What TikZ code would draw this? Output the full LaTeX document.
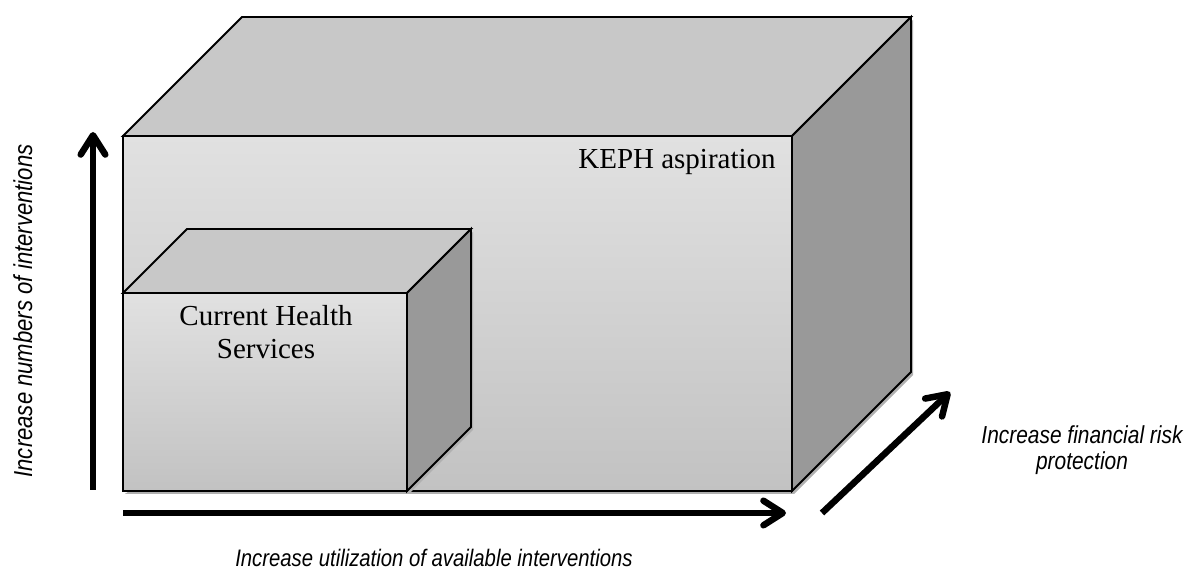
\documentclass[tikz,border=0pt]{standalone}
\usepackage{fontspec}
\setmainfont{Liberation Serif}
\newfontfamily\narrowsans[FakeStretch=0.85]{Liberation Sans}
\usepackage{tikz}
\usetikzlibrary{arrows.meta}
\definecolor{frontlight}{HTML}{E1E1E1}
\definecolor{frontdark}{HTML}{C2C2C2}
\definecolor{topgray}{HTML}{C8C8C8}
\definecolor{sidegray}{HTML}{999999}
\definecolor{shadowgray}{HTML}{B0B0B0}
\tikzset{
  face/.style={draw=black, line width=1.1pt, line join=miter},
  frontface/.style={face, top color=frontlight, bottom color=frontdark},
  topface/.style={face, fill=topgray},
  sideface/.style={face, fill=sidegray},
  boxshadow/.style={fill=shadowgray},
  boxtext/.style={inner sep=0pt, align=center, font=\fontsize{16.5}{19}\selectfont},
  axistext/.style={inner sep=0pt, align=center, font=\narrowsans\itshape\fontsize{#1}{15}\selectfont}
}
\tikzstyle{axisarrow} = [line width=3.7pt, -{Straight Barb[length=11pt, width=14pt, round]}]
\newcommand\cuboid[5]{
  \path[boxshadow] (#1+2,#4+3) -- (#3+2,#4+3) -- (#3+#5+2,#4-#5+3) -- (#3+#5+2,#2-#5+3) -- (#3+2,#2+3) -- cycle;
  \path[topface] (#1,#2) -- (#1+#5,#2-#5) -- (#3+#5,#2-#5) -- (#3,#2) -- cycle;
  \path[sideface] (#3,#2) -- (#3+#5,#2-#5) -- (#3+#5,#4-#5) -- (#3,#4) -- cycle;
  \path[frontface] (#1,#2) rectangle (#3,#4);
}

\begin{document}
\begin{tikzpicture}[x=0.02cm, y=-0.02cm]
    \useasboundingbox (0,0) rectangle (1188,570);
    \cuboid{123}{136}{792}{491}{119}
    \cuboid{123}{293}{407}{491}{64}
    \node[boxtext, anchor=base east] (keph) at (776,169) {KEPH aspiration};
    \node[boxtext, anchor=north] (current) at (266,305) {Current Health\\Services};
    \coordinate (upfrom) at (93,490);
    \coordinate (upto) at (93,132);
    \coordinate (rightfrom) at (123,513);
    \coordinate (rightto) at (786,513);
    \coordinate (deepfrom) at (822,513);
    \coordinate (deepto) at (950,392);
    \draw[axisarrow] (upfrom) -- (upto);
    \draw[axisarrow] (rightfrom) -- (rightto);
    \draw[axisarrow] (deepfrom) -- (deepto);
    \node[axistext=14.8, rotate=90, anchor=base] (numbers) at (32,311) {Increase numbers of interventions};
    \node[axistext=13.6, anchor=base] (utilization) at (434,567) {Increase utilization of available interventions};
    \node[axistext=14, anchor=north] (financial) at (1082,425) {Increase financial risk\\protection};
\end{tikzpicture}
\end{document}
